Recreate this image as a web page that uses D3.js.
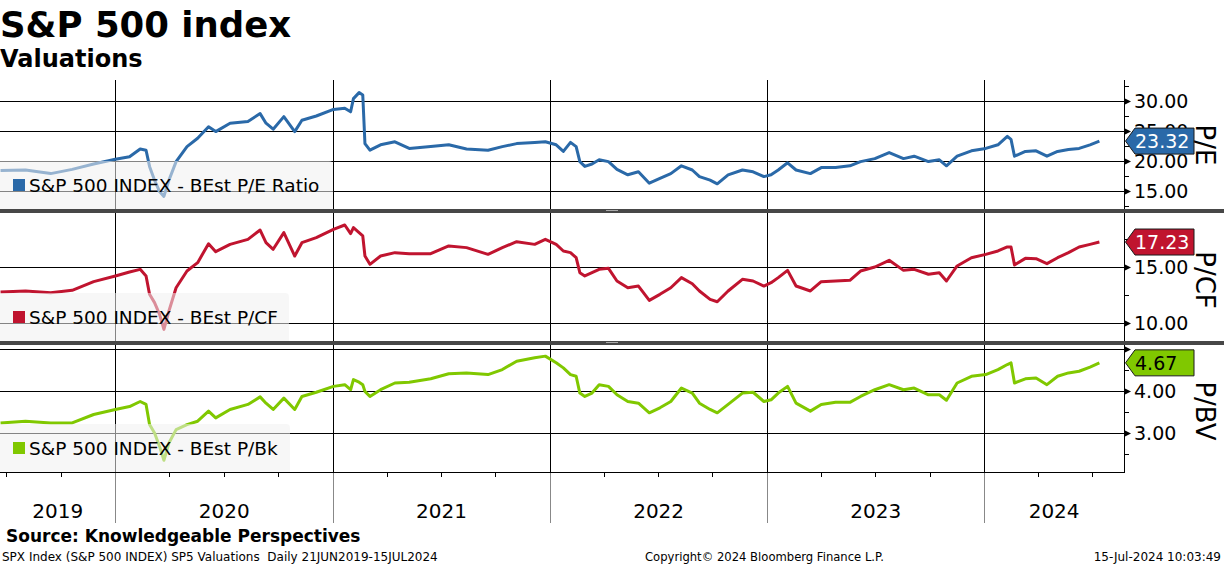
<!DOCTYPE html>
<html><head><meta charset="utf-8">
<script src="https://cdn.jsdelivr.net/npm/d3@7"></script>
<style>body{margin:0;background:#fff;} svg{display:block;font-family:"DejaVu Sans",sans-serif;}</style>
</head><body>
<svg id="c" width="1224" height="566"></svg>
<script>
// ---- data (decimal years) ----
const dates = [2019.471,2019.586,2019.702,2019.801,2019.900,2020.000,2020.065,2020.114,2020.141,2020.157,
2020.180,2020.203,2020.223,2020.246,2020.279,2020.329,2020.378,2020.428,2020.461,2020.527,
2020.609,2020.665,2020.692,2020.725,2020.774,2020.824,2020.857,2020.923,2021.002,2021.054,
2021.081,2021.094,2021.120,2021.137,2021.147,2021.170,2021.219,2021.285,2021.351,2021.450,
2021.533,2021.615,2021.714,2021.780,2021.846,2021.929,2021.978,2022.028,2022.061,2022.094,
2022.120,2022.137,2022.160,2022.193,2022.226,2022.269,2022.308,2022.358,2022.407,2022.457,
2022.506,2022.556,2022.605,2022.655,2022.688,2022.737,2022.770,2022.820,2022.886,2022.935,
2022.985,2023.018,2023.051,2023.094,2023.133,2023.199,2023.249,2023.315,2023.381,2023.430,
2023.496,2023.562,2023.628,2023.677,2023.743,2023.793,2023.826,2023.875,2023.941,2024.007,
2024.063,2024.106,2024.123,2024.139,2024.189,2024.238,2024.288,2024.337,2024.387,2024.436,
2024.486,2024.529];
const peValues = [18.4,18.5,17.9,18.6,19.5,20.3,20.7,22.0,21.8,19.1,
16.8,14.9,14.1,16.8,19.9,22.4,23.8,25.7,24.9,26.3,
26.6,27.9,26.3,25.3,27.4,24.9,26.8,27.5,28.6,28.8,
28.2,30.4,31.4,31.0,22.9,21.8,22.7,23.2,22.1,22.4,
22.7,22.0,21.8,22.4,22.9,23.1,23.2,22.7,21.6,23.1,
22.4,19.9,19.1,19.5,20.2,19.9,18.6,17.7,18.2,16.3,
17.1,17.9,19.2,18.5,17.4,16.8,16.2,17.7,18.5,18.2,
17.4,17.7,18.5,19.7,18.5,17.9,18.9,18.9,19.2,19.9,
20.4,21.4,20.4,20.8,19.9,20.2,19.2,20.8,21.7,22.1,
22.7,24.1,23.6,20.8,21.6,21.7,20.8,21.6,21.9,22.1,
22.7,23.32];
const pcfValues = [12.77,12.86,12.71,12.92,13.69,14.20,14.55,14.79,14.20,12.56,
11.82,10.77,9.43,11.07,13.15,14.64,15.39,17.08,16.37,17.02,
17.47,18.30,17.17,16.58,18.07,15.98,17.17,17.62,18.36,18.75,
17.98,18.51,18.07,17.77,15.98,15.24,15.98,16.28,16.19,16.19,
16.88,16.73,16.13,16.73,17.26,17.02,17.47,17.02,16.43,16.28,
15.83,14.49,14.20,14.49,14.79,14.88,13.75,13.15,13.30,12.02,
12.56,13.15,14.05,13.51,12.86,12.11,11.90,12.86,13.90,13.75,
13.30,13.60,14.05,14.70,13.30,12.86,13.69,13.75,13.81,14.64,
15.00,15.60,14.70,14.79,14.35,14.49,13.75,15.09,15.83,16.13,
16.43,16.79,16.79,15.18,15.77,15.74,15.30,15.83,16.28,16.79,
17.02,17.23];
const pbvValues = [3.24,3.28,3.24,3.24,3.44,3.56,3.63,3.75,3.68,3.20,
3.00,2.68,2.35,2.76,3.08,3.20,3.28,3.52,3.36,3.56,
3.68,3.86,3.71,3.56,3.83,3.56,3.87,3.97,4.11,4.15,
4.03,4.27,4.21,4.15,3.99,3.87,4.03,4.19,4.21,4.29,
4.41,4.43,4.39,4.51,4.71,4.79,4.83,4.67,4.55,4.39,
4.35,3.95,3.87,3.95,4.15,4.11,3.91,3.75,3.71,3.48,
3.60,3.75,4.07,3.95,3.71,3.56,3.48,3.68,3.95,3.97,
3.75,3.79,3.95,4.11,3.71,3.52,3.68,3.73,3.73,3.87,
4.03,4.15,4.03,4.07,3.91,3.91,3.78,4.19,4.35,4.39,
4.51,4.63,4.67,4.19,4.29,4.31,4.15,4.35,4.43,4.47,
4.57,4.67];
const yearLabels = [2019,2020,2021,2022,2023,2024];
const peTicks = [15,20,25,30], peLabels = [15,20,25,30], peMinor = [12.5,17.5,22.5,27.5,32.5];
const pcfTicks = [10,15], pcfLabels = [10,15], pcfMinor = [12.5,17.5];
const pbvTicks = [3,4,5], pbvLabels = [3,4], pbvMinor = [2.5,3.5,4.5];

// ---- helpers ----
const toDate = y => { const yr=Math.floor(y), s=new Date(yr,0,1), e=new Date(yr+1,0,1); return new Date(s.getTime()+(y-yr)*(e-s)); };
const svg = d3.select("#c");
const PR = 1124;
const x = d3.scaleTime().domain([new Date(2019,5,21), new Date(2024,7,23)]).range([0, PR]);

const panels = [
  {vals:peValues, color:"#2a69a8", top:80, bottom:209, dom:[12,33.5], ticks:peTicks, labels:peLabels, minor:peMinor,
   legend:"S&P 500 INDEX - BEst P/E Ratio", legW:333, title:"P/E", titleY:145, flagTxt:"#fff"},
  {vals:pcfValues, color:"#c0142f", top:213, bottom:341, dom:[8.393,19.821], ticks:pcfTicks, labels:pcfLabels, minor:pcfMinor,
   legend:"S&P 500 INDEX - BEst P/CF", legW:289, title:"P/CF", titleY:280, flagTxt:"#fff"},
  {vals:pbvValues, color:"#80c800", top:345, bottom:472, dom:[2.071,5.095], ticks:pbvTicks, labels:pbvLabels, minor:pbvMinor,
   legend:"S&P 500 INDEX - BEst P/Bk", legW:290, title:"P/BV", titleY:411, flagTxt:"#000"}
];

// year boundaries
const yearBounds = d3.timeYear.range(x.domain()[0], x.domain()[1]).filter(d=>d>x.domain()[0]);

panels.forEach((p,i)=>{
  const y = d3.scaleLinear().domain(p.dom).range([p.bottom, p.top]);
  const g = svg.append("g");
  const cid = "clip"+i;
  svg.append("clipPath").attr("id",cid).append("rect").attr("x",0).attr("y",p.top).attr("width",PR).attr("height",p.bottom-p.top);
  // grid
  g.selectAll(".hg").data(p.ticks).enter().append("line")
    .attr("x1",0).attr("x2",PR).attr("y1",d=>Math.round(y(d))+0.5).attr("y2",d=>Math.round(y(d))+0.5)
    .attr("stroke","#000").attr("stroke-width",1);
  g.selectAll(".vg").data(yearBounds).enter().append("line")
    .attr("x1",d=>Math.round(x(d))+0.5).attr("x2",d=>Math.round(x(d))+0.5).attr("y1",p.top).attr("y2",p.bottom)
    .attr("stroke","#000").attr("stroke-width",1);
  // line
  const data = dates.map((d,k)=>({d:toDate(d), v:p.vals[k]}));
  g.append("path").datum(data).attr("clip-path",`url(#${cid})`)
    .attr("fill","none").attr("stroke",p.color).attr("stroke-width",3).attr("stroke-linejoin","round")
    .attr("d", d3.line().x(d=>x(d.d)).y(d=>y(d.v)));
  // legend
  const lh = 48;
  g.append("path").attr("d",`M0,${p.bottom-lh} H${p.legW-4} Q${p.legW},${p.bottom-lh} ${p.legW},${p.bottom-lh+4} V${p.bottom} H0 Z`)
    .attr("fill","#f0f0f0").attr("fill-opacity",0.55);
  g.append("rect").attr("x",13).attr("y",p.bottom-lh+18).attr("width",12).attr("height",12).attr("fill",p.color);
  g.append("text").attr("x",29).attr("y",p.bottom-lh+31).attr("font-size",18.5).attr("fill","#000").text(p.legend);
  // right axis ticks
  g.selectAll(".tri").data(p.ticks).enter().append("path")
    .attr("d",d=>{const yy=Math.round(y(d))+0.5; return `M${PR},${yy-3.5} L${PR+7},${yy} L${PR},${yy+3.5} Z`;}).attr("fill","#000");
  g.selectAll(".mt").data(p.minor).enter().append("line")
    .attr("x1",PR).attr("x2",PR+5).attr("y1",d=>Math.round(y(d))+0.5).attr("y2",d=>Math.round(y(d))+0.5).attr("stroke","#000");
  g.selectAll(".tl").data(p.labels).enter().append("text")
    .attr("x",PR+10).attr("y",d=>y(d)).attr("dy","0.36em").attr("font-size",19).attr("fill","#000").text(d=>d.toFixed(2));
  // flag
  const last = p.vals[p.vals.length-1], fy = y(last);
  g.append("path").attr("d",`M${PR+1.5},${fy} L${PR+11},${fy-13} H${PR+70} V${fy+13} H${PR+11} Z`)
    .attr("fill",p.color).attr("stroke","#1a1a1a").attr("stroke-width",1);
  g.append("text").attr("x",PR+11).attr("y",fy).attr("dy","0.36em").attr("font-size",19).attr("fill",p.flagTxt).text(last.toFixed(2));
  // axis title
  g.append("text").attr("transform",`translate(1196,${p.titleY}) rotate(90)`).attr("text-anchor","middle")
    .attr("font-size",26).attr("fill","#000").text(p.title);
});

// right axis line & bottom line
svg.append("line").attr("x1",PR+0.5).attr("x2",PR+0.5).attr("y1",80).attr("y2",472).attr("stroke","#000");
svg.append("line").attr("x1",0).attr("x2",PR+1).attr("y1",472.5).attr("y2",472.5).attr("stroke","#000");
// separators
[209,341].forEach(sy=>{
  svg.append("rect").attr("x",0).attr("y",sy).attr("width",1224).attr("height",4).attr("fill","#474747");
  svg.append("rect").attr("x",606).attr("y",sy+1).attr("width",12).attr("height",1).attr("fill","#aaa");
});
// bottom axis: quarter ticks, year separators, labels
const quarters = d3.timeMonth.every(3).range(x.domain()[0], x.domain()[1]);
svg.selectAll(".qt").data(quarters).enter().append("line")
  .attr("x1",d=>Math.round(x(d))+0.5).attr("x2",d=>Math.round(x(d))+0.5).attr("y1",472).attr("y2",477).attr("stroke","#000");
svg.selectAll(".ys").data(yearBounds).enter().append("line")
  .attr("x1",d=>Math.round(x(d))+0.5).attr("x2",d=>Math.round(x(d))+0.5).attr("y1",473).attr("y2",523).attr("stroke","#888");
svg.selectAll(".yl").data(yearLabels).enter().append("text")
  .attr("x",yr=>{const a=Math.max(0,x(new Date(yr,0,1))), b=Math.min(PR,x(new Date(yr+1,0,1))); return (a+b)/2;})
  .attr("y",518).attr("text-anchor","middle").attr("font-size",20).attr("fill","#000").text(d=>d);

// titles
svg.append("text").attr("x",0).attr("y",37).attr("font-size",35.5).attr("font-weight","bold").text("S&P 500 index");
svg.append("text").attr("x",0).attr("y",67).attr("font-size",24).attr("font-weight","bold").text("Valuations");
// footer
svg.append("text").attr("x",6).attr("y",542).attr("font-size",17).attr("font-weight","bold").text("Source: Knowledgeable Perspectives");
svg.append("text").attr("x",2).attr("y",561).attr("font-size",12).text("SPX Index (S&P 500 INDEX) SP5 Valuations  Daily 21JUN2019-15JUL2024").attr("xml:space","preserve");
svg.append("text").attr("x",645).attr("y",561).attr("font-size",11.6).text("Copyright\u00A9 2024 Bloomberg Finance L.P.");
svg.append("text").attr("x",1221).attr("y",561).attr("font-size",12).attr("text-anchor","end").text("15-Jul-2024 10:03:49");
</script>
</body></html>
